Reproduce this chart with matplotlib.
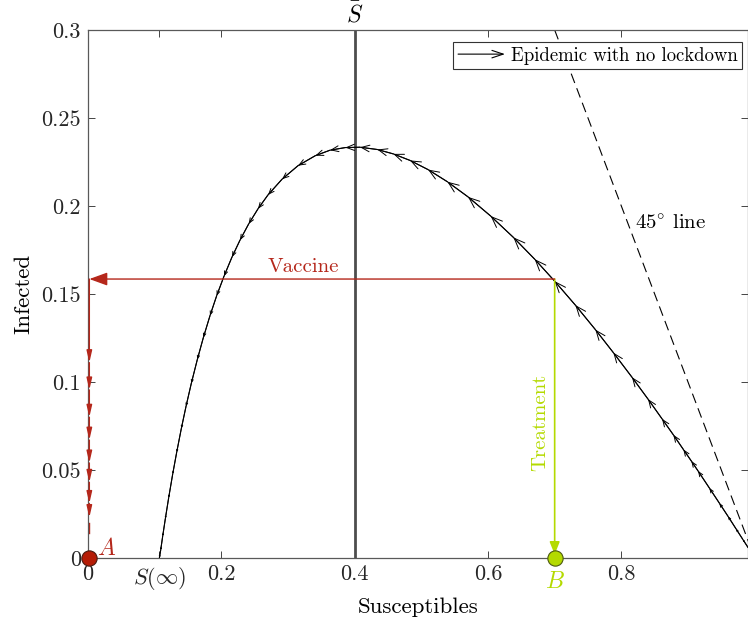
import numpy as np
import matplotlib
matplotlib.use("Agg")
import matplotlib.pyplot as plt
from matplotlib.patches import FancyArrowPatch, ArrowStyle
from matplotlib.legend_handler import HandlerBase

plt.rcParams['font.family'] = 'cmr10'
plt.rcParams['mathtext.fontset'] = 'cm'
plt.rcParams['axes.formatter.use_mathtext'] = True

# %% Daten
# Epidemie ohne Lockdown, Punkte in zeitlicher Reihenfolge (S faellt)
S_path = [0.990, 0.982, 0.972, 0.960, 0.947, 0.932, 0.915, 0.905, 0.893,
          0.878, 0.861, 0.840, 0.816, 0.788, 0.761, 0.731, 0.700, 0.670,
          0.638, 0.604, 0.570, 0.539, 0.510, 0.483, 0.458, 0.434, 0.408,
          0.386, 0.363, 0.341, 0.315, 0.291, 0.270, 0.255, 0.241, 0.228,
          0.216, 0.204, 0.193, 0.183, 0.173, 0.164, 0.155, 0.147, 0.140,
          0.133, 0.127, 0.121, 0.116, 0.112, 0.109, 0.107]
I_path = [0.0060, 0.0107, 0.0166, 0.0237, 0.0312, 0.0398, 0.0495, 0.0551,
          0.0617, 0.0700, 0.0791, 0.0903, 0.1027, 0.1167, 0.1298, 0.1437,
          0.1573, 0.1698, 0.1822, 0.1943, 0.2052, 0.2138, 0.2207, 0.2259,
          0.2296, 0.2321, 0.2334, 0.2332, 0.2317, 0.2286, 0.2229, 0.2152,
          0.2063, 0.1984, 0.1898, 0.1806, 0.1710, 0.1601, 0.1490, 0.1377,
          0.1252, 0.1128, 0.0993, 0.0861, 0.0736, 0.0600, 0.0476, 0.0342,
          0.0223, 0.0123, 0.0044, 0.0000]

# 45-Grad-Linie
S_45 = [0.70, 1.00]
I_45 = [0.30, 0.00]

S_bar = 0.4
S_inf = 0.107

# Impfung: Sprung nach links, dann Abklingen bei S ~ 0
S_vacc = 0.002
I_jump = 0.1585
I_vacc = [0.1585, 0.111, 0.0955, 0.080, 0.067, 0.054, 0.043, 0.031, 0.023]
I_vacc_tail = [0.020, 0.014]

# Behandlung: senkrecht nach unten bei S = 0.7
S_treat = 0.70

xticks = [0, S_inf, 0.2, 0.4, 0.6, 0.8]
xticklabels = ['0', r'$S(\infty)$', '0.2', '0.4', '0.6', '0.8']
yticks = [0, 0.05, 0.1, 0.15, 0.2, 0.25, 0.3]
yticklabels = ['0', '0.05', '0.1', '0.15', '0.2', '0.25', '0.3']

red = '#b5271b'
green = '#b4da00'


class HandlerArrow(HandlerBase):
    def create_artists(self, legend, orig_handle, xdescent, ydescent,
                       width, height, fontsize, trans):
        y = height / 2 - ydescent
        a = FancyArrowPatch((-xdescent, y), (width - xdescent, y),
                            arrowstyle=ArrowStyle('->', head_length=0.6,
                                                  head_width=0.2),
                            mutation_scale=fontsize, lw=0.8, color='k',
                            shrinkA=0, shrinkB=0, transform=trans)
        return [a]


# %% Plot
fig = plt.figure(figsize=(7.48, 6.18), dpi=100)
ax = fig.add_axes([88 / 748, 60 / 618, 660 / 748, 528 / 618])

ax.plot(S_45, I_45, color='k', lw=0.8, dashes=(9, 5))
ax.axvline(S_bar, color='#4d4d4d', lw=2.0, zorder=2)

ax.plot(S_path, I_path, color='k', lw=0.8, zorder=3)
for i in range(len(S_path) - 1):
    s, inf = S_path[i + 1], I_path[i + 1]
    speed = np.hypot(2.5 * s * inf, 2.5 * s * inf - inf)
    hl = max(25 * speed, 0.8)
    arr = FancyArrowPatch((S_path[i], I_path[i]), (s, inf),
                          arrowstyle=ArrowStyle('->', head_length=hl,
                                                head_width=0.4 * hl),
                          mutation_scale=1, lw=0.7, color='k',
                          shrinkA=0, shrinkB=0, zorder=3)
    ax.add_patch(arr)

# Behandlung
ax.annotate('', xy=(S_treat, 0.002), xytext=(S_treat, I_jump),
            arrowprops=dict(arrowstyle='-|>, head_length=0.75, head_width=0.3',
                            color=green, lw=1.2, shrinkA=0, shrinkB=0),
            zorder=4)
ax.text(S_treat - 0.021, 0.077, 'Treatment', color=green, fontsize=15,
        rotation=90, ha='center', va='center')

# Impfung
ax.annotate('', xy=(S_vacc, I_jump), xytext=(S_treat, I_jump),
            arrowprops=dict(arrowstyle='-|>, head_length=1.1, head_width=0.4',
                            color=red, lw=1.0, shrinkA=0, shrinkB=0),
            zorder=4)
ax.text(0.323, I_jump + 0.002, 'Vaccine', color=red, fontsize=15,
        ha='center', va='bottom')
for i in range(len(I_vacc) - 1):
    ax.annotate('', xy=(S_vacc, I_vacc[i + 1]), xytext=(S_vacc, I_vacc[i]),
                arrowprops=dict(arrowstyle='-|>, head_length=0.7, head_width=0.16',
                                color=red, lw=1.0, shrinkA=0, shrinkB=0),
                zorder=4)
ax.plot([S_vacc, S_vacc], I_vacc_tail, color=red, lw=1.0)

# Punkte A und B
ax.plot([S_vacc], [0], 'o', ms=11, mfc='#b51c06', mec='#4a1a10', mew=0.8,
        clip_on=False, zorder=6)
ax.text(S_vacc + 0.011, -0.001, r'$A$', color=red, fontsize=17,
        va='bottom')
ax.plot([S_treat], [0], 'o', ms=11, mfc=green, mec='#4d5a10', mew=0.8,
        clip_on=False, zorder=6)
ax.text(S_treat, -0.0075, r'$B$', color=green, fontsize=17,
        ha='center', va='top')

ax.text(S_bar, 0.3015, r'$\bar{S}$', fontsize=17, ha='center', va='bottom')
ax.text(0.821, 0.19, r'$45^{\circ}$ line', fontsize=15, ha='left',
        va='center')

ax.set_xlim(0, 0.99)
ax.set_ylim(0, 0.3)
ax.set_xticks(xticks)
ax.set_xticklabels(xticklabels)
ax.set_yticks(yticks)
ax.set_yticklabels(yticklabels)
ax.tick_params(direction='in', length=5, width=0.6, top=True, right=True,
               labelsize=16, colors='0.15', pad=5)
for sp in ax.spines.values():
    sp.set_color('0.35')
    sp.set_linewidth(0.9)

ax.set_xlabel('Susceptibles', fontsize=16.5, labelpad=4)
ax.set_ylabel('Infected', fontsize=16.5, labelpad=6)

leg_handle = FancyArrowPatch((0, 0), (1, 0))
leg = ax.legend([leg_handle], ['Epidemic with no lockdown'],
                handler_map={FancyArrowPatch: HandlerArrow()},
                loc='upper right', bbox_to_anchor=(742 / 748, 1 - 42 / 618),
                bbox_transform=fig.transFigure, borderaxespad=0,
                fancybox=False, framealpha=1, edgecolor='0.2', fontsize=13.5,
                handlelength=2.5, handletextpad=0.3, borderpad=0.25)
leg.get_frame().set_linewidth(0.8)

fig.savefig('out.png', dpi=100)
